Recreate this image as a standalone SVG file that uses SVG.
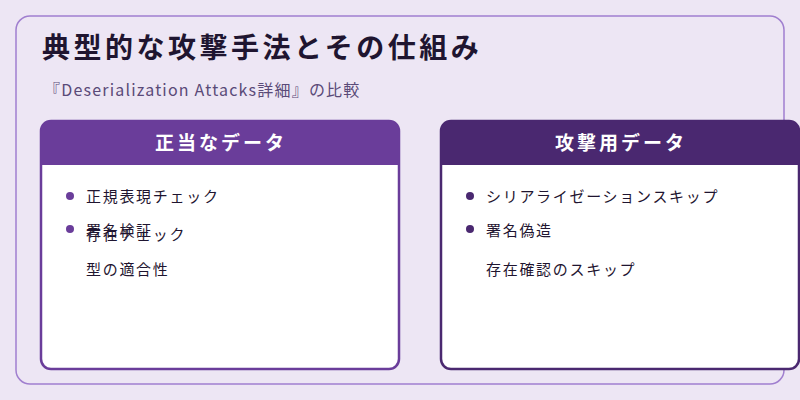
<svg xmlns="http://www.w3.org/2000/svg" width="800" height="400" viewBox="0 0 800 400">
<style>
text{font-family:"Noto Sans CJK JP","Noto Sans",sans-serif}
.t{font-size:15px;fill:#1f1530;letter-spacing:1.7px}
.h{font-size:19px;font-weight:bold;fill:#fff;text-anchor:middle;letter-spacing:3px}
.b1{fill:#6a3d9a}.b2{fill:#4a2870}
</style>
<rect width="800" height="400" fill="#ede6f4"/>
<rect x="16" y="16" width="768" height="368" rx="14" fill="#ede6f4" stroke="#a07fcf" stroke-width="1.5"/>
<text x="42" y="58" font-size="28" font-weight="bold" fill="#1f1530" letter-spacing="3.5">典型的な攻撃手法とその仕組み</text>
<text x="44" y="96" font-size="16" fill="#5a4a78" letter-spacing="1.2">『Deserialization Attacks詳細』の比較</text>
<g id="legit">
<rect x="41" y="121" width="358" height="248" rx="10" fill="#fff" stroke="#6a3d9a" stroke-width="2.5"/>
<path d="M41 165V131a10 10 0 0 1 10-10h338a10 10 0 0 1 10 10v34z" fill="#6a3d9a"/>
<text x="221" y="150" class="h">正当なデータ</text>
<circle cx="70" cy="196" r="4" class="b1"/><text x="86" y="202" class="t">正規表現チェック</text>
<circle cx="70" cy="229" r="4" class="b1"/><text x="86" y="236" class="t">署名検証</text>
<text x="86" y="240" class="t">存在チェック</text>
<text x="86" y="275" class="t">型の適合性</text>
</g>
<g id="attack">
<rect x="441" y="121" width="358" height="248" rx="10" fill="#fff" stroke="#4a2870" stroke-width="2.5"/>
<path d="M441 165V131a10 10 0 0 1 10-10h338a10 10 0 0 1 10 10v34z" fill="#4a2870"/>
<text x="621" y="150" class="h">攻撃用データ</text>
<circle cx="470" cy="196" r="4" class="b2"/><text x="486" y="202" class="t">シリアライゼーションスキップ</text>
<circle cx="470" cy="229" r="4" class="b2"/><text x="486" y="236" class="t">署名偽造</text>
<text x="486" y="275" class="t">存在確認のスキップ</text>
</g>
<g id="connectors"/>
</svg>
